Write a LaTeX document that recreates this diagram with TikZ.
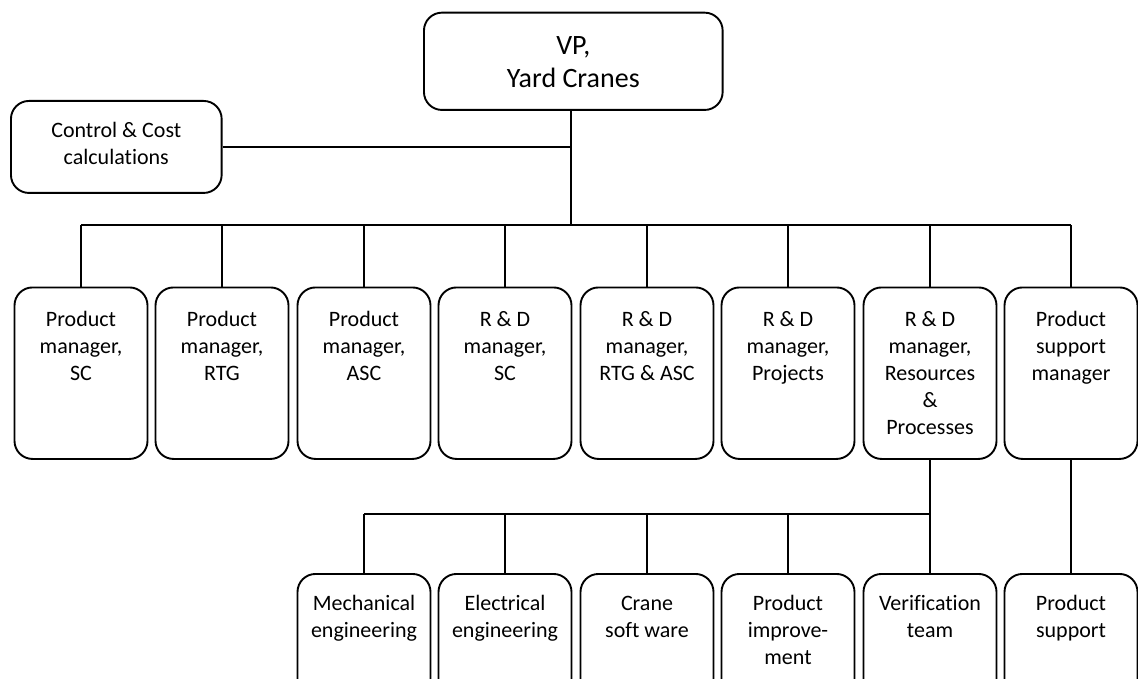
\documentclass[tikz,border=0pt]{standalone}
\usepackage{fontspec}
\setmainfont{Carlito}[Ligatures=NoCommon]
\begin{document}
\begin{tikzpicture}[x=1pt,y=-1pt,
  frame/.style={draw, line width=1.9pt, rounded corners=18pt, anchor=north, inner sep=0pt},
  unit/.style={frame, minimum width=133pt, minimum height=171.5pt},
  caption/.style={anchor=north, inner sep=0pt, align=center, font=\fontsize{22}{27}\selectfont},
  wire/.style={line width=1.8pt}]
\useasboundingbox (0,0) rectangle (1138,679);
\clip (0,0) rectangle (1138,679);

% top level
\node[frame, minimum width=298.7pt, minimum height=97.3pt] (vp) at (573.3,11.7) {};
\node[caption, font=\fontsize{28}{33}\selectfont] (vpt) at ([yshift=-20pt]vp.north) {\strut VP,\\Yard Cranes};

\node[frame, minimum width=210.7pt, minimum height=92pt] (cc) at (116.3,100) {};
\node[caption] (cct) at ([yshift=-18pt]cc.north) {\strut Control \& Cost\\calculations};

% managers
\foreach \i/\x in {1/81,2/222,3/364,4/505,5/647,6/788,7/930,8/1071}
  \node[unit] (m\i) at (\x,286.5) {};
\node[caption] (m1t) at ([yshift=-21pt]m1.north) {\strut Product\\manager,\\SC};
\node[caption] (m2t) at ([yshift=-21pt]m2.north) {\strut Product\\manager,\\RTG};
\node[caption] (m3t) at ([yshift=-21pt]m3.north) {\strut Product\\manager,\\ASC};
\node[caption] (m4t) at ([yshift=-21pt]m4.north) {\strut R \& D\\manager,\\SC};
\node[caption] (m5t) at ([yshift=-21pt]m5.north) {\strut R \& D\\manager,\\RTG \& ASC};
\node[caption] (m6t) at ([yshift=-21pt]m6.north) {\strut R \& D\\manager,\\Projects};
\node[caption] (m7t) at ([yshift=-21pt]m7.north) {\strut R \& D\\manager,\\Resources\\\&\\Processes};
\node[caption] (m8t) at ([yshift=-21pt]m8.north) {\strut Product\\support\\manager};

% teams
\foreach \i/\x in {1/364,2/505,3/647,4/788,5/930,6/1071}
  \node[unit] (b\i) at (\x,573) {};
\node[caption] (b1t) at ([yshift=-18pt]b1.north) {\strut Mechanical\\engineering};
\node[caption] (b2t) at ([yshift=-18pt]b2.north) {\strut Electrical\\engineering};
\node[caption] (b3t) at ([yshift=-18pt]b3.north) {\strut Crane\\soft ware};
\node[caption] (b4t) at ([yshift=-18pt]b4.north) {\strut Product\\improve-\\ment};
\node[caption] (b5t) at ([yshift=-18pt]b5.north) {\strut Verification\\team};
\node[caption] (b6t) at ([yshift=-18pt]b6.north) {\strut Product\\support};

% connectors
\coordinate (bus) at (571,225);
\coordinate (bus2) at (0,514);
\draw[wire] (vp.south -| bus) -- (bus);
\draw[wire] (cc.east) -- (cc.east -| bus);
\draw[wire] (m1.north |- bus) -- (m8.north |- bus);
\foreach \i in {1,...,8}
  \draw[wire] (m\i.north) -- (m\i.north |- bus);
\draw[wire] (m7.south) -- (b5.north);
\draw[wire] (b1.north |- bus2) -- (b5.north |- bus2);
\foreach \i in {1,...,4}
  \draw[wire] (b\i.north) -- (b\i.north |- bus2);
\draw[wire] (m8.south) -- (b6.north);
\end{tikzpicture}
\end{document}
